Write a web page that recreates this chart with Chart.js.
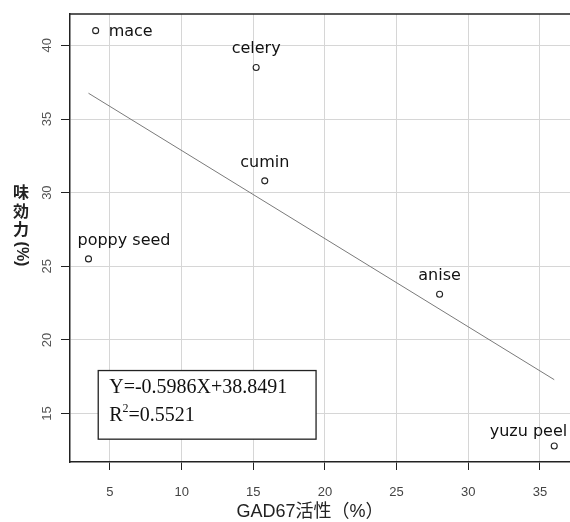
<!DOCTYPE html>
<html>
<head>
<meta charset="utf-8">
<script src="https://cdn.jsdelivr.net/npm/chart.js@4"></script>
<style>
  html, body { margin: 0; padding: 0; background: #fff; }
  #chart { display: block; }
</style>
</head>
<body>
<canvas id="chart" width="570" height="522"></canvas>
<script>
const spices = ['mace', 'celery', 'cumin', 'poppy seed', 'anise', 'yuzu peel'];
const gad67 = [4.0, 15.2, 15.8, 3.5, 28.0, 36.0];
const taste = [41.0, 38.5, 30.8, 25.5, 23.1, 12.8];

// fitted line ends
const trendX = [3.5, 36.0];
const trendY = [36.75, 17.30];

const xTicks = [5, 10, 15, 20, 25, 30, 35];
const yTicks = [15, 20, 25, 30, 35, 40];

const eqLine = 'Y=-0.5986X+38.8491';
const r2Value = '=0.5521';
const xTitle = 'GAD67活性（%）';
const yTitleChars = ['味', '効', '力'];
const yTitleTail = '(%)';

// where each name sits next to its point
const placement = ['right', 'above', 'above', 'aboveRight', 'above', 'aboveLeft'];

const ink = '#222';
const gridColor = '#d6d6d6';

const extras = {
    id: 'extras',
    afterDraw(chart) {
        const { ctx, chartArea: area, scales: { x, y } } = chart;
        ctx.save();

        // top frame line
        ctx.strokeStyle = ink;
        ctx.lineWidth = 1.5;
        ctx.beginPath();
        ctx.moveTo(area.left, area.top);
        ctx.lineTo(area.right, area.top);
        ctx.stroke();

        // y tick labels, rotated like R
        ctx.fillStyle = '#555';
        ctx.font = '13px "Liberation Sans"';
        ctx.textAlign = 'center';
        ctx.textBaseline = 'middle';
        yTicks.forEach((v) => {
            ctx.save();
            ctx.translate(area.left - 23, y.getPixelForValue(v));
            ctx.rotate(-Math.PI / 2);
            ctx.fillText(String(v), 0, 0);
            ctx.restore();
        });

        // point names
        const pts = chart.getDatasetMeta(1).data;
        ctx.fillStyle = '#111';
        ctx.font = '16px "DejaVu Sans"';
        ctx.textBaseline = 'alphabetic';
        pts.forEach((p, i) => {
            const where = placement[i];
            if (where === 'right') {
                ctx.textAlign = 'left';
                ctx.fillText(spices[i], p.x + 13, p.y + 5);
            } else if (where === 'aboveRight') {
                ctx.textAlign = 'left';
                ctx.fillText(spices[i], p.x - 11, p.y - 14);
            } else if (where === 'aboveLeft') {
                ctx.textAlign = 'right';
                ctx.fillText(spices[i], p.x + 13, p.y - 10);
            } else {
                ctx.textAlign = 'center';
                ctx.fillText(spices[i], p.x, p.y - 14);
            }
        });

        // equation box
        const bx1 = x.getPixelForValue(4.18);
        const bx2 = x.getPixelForValue(19.38);
        const by1 = y.getPixelForValue(17.92);
        const by2 = y.getPixelForValue(13.26);
        ctx.fillStyle = '#fff';
        ctx.fillRect(bx1, by1, bx2 - bx1, by2 - by1);
        ctx.strokeStyle = ink;
        ctx.lineWidth = 1.3;
        ctx.strokeRect(bx1, by1, bx2 - bx1, by2 - by1);

        ctx.fillStyle = '#111';
        ctx.textAlign = 'left';
        ctx.font = '20px "Liberation Serif"';
        ctx.fillText(eqLine, bx1 + 11, by1 + 22);
        ctx.fillText('R', bx1 + 11, by1 + 50);
        const rW = ctx.measureText('R').width;
        ctx.font = '12px "Liberation Serif"';
        ctx.fillText('2', bx1 + 11 + rW, by1 + 41);
        const sW = ctx.measureText('2').width;
        ctx.font = '20px "Liberation Serif"';
        ctx.fillText(r2Value, bx1 + 11 + rW + sW, by1 + 50);

        // x axis title
        ctx.fillStyle = ink;
        ctx.font = '18px "Liberation Sans", "Noto Sans CJK JP"';
        ctx.textAlign = 'center';
        ctx.textBaseline = 'middle';
        ctx.fillText(xTitle, area.left + 240, 512);

        // y axis title, written top to bottom
        ctx.font = 'bold 16px "Noto Sans CJK JP"';
        yTitleChars.forEach((ch, i) => {
            ctx.fillText(ch, 21, 192 + i * 18.5);
        });
        ctx.save();
        ctx.translate(21, 254);
        ctx.rotate(Math.PI / 2);
        ctx.font = 'bold 16px "Liberation Sans"';
        ctx.fillText(yTitleTail, 0, 0);
        ctx.restore();

        ctx.restore();
    }
};

const setTicks = (list) => (scale) => {
    scale.ticks = list.map((v) => ({ value: v }));
};

new Chart(document.getElementById('chart'), {
    type: 'scatter',
    data: {
        datasets: [{
            data: trendX.map((v, i) => ({ x: v, y: trendY[i] })),
            showLine: true,
            borderColor: '#7a7a7a',
            borderWidth: 1,
            pointRadius: 0,
            pointHoverRadius: 0
        }, {
            data: gad67.map((v, i) => ({ x: v, y: taste[i] })),
            pointStyle: 'circle',
            pointRadius: 3,
            pointBorderWidth: 1.1,
            borderColor: ink,
            backgroundColor: '#fff'
        }]
    },
    options: {
        responsive: false,
        devicePixelRatio: 1,
        animation: false,
        layout: {
            autoPadding: false,
            padding: { top: 14, left: 0, right: 0, bottom: 0 }
        },
        plugins: {
            legend: { display: false },
            tooltip: { enabled: false }
        },
        scales: {
            x: {
                type: 'linear',
                min: 2.21,
                max: 37.1,
                afterBuildTicks: setTicks(xTicks),
                afterFit: (scale) => {
                    scale.height = 60;
                    scale.paddingLeft = 0;
                    scale.paddingRight = 0;
                },
                grid: { color: gridColor, tickColor: ink, tickLength: 8, lineWidth: 1 },
                border: { color: ink, width: 1.5 },
                ticks: {
                    color: '#444',
                    font: { family: 'Liberation Sans', size: 13 },
                    padding: 15,
                    maxRotation: 0
                }
            },
            y: {
                type: 'linear',
                min: 11.71,
                max: 42.13,
                afterBuildTicks: setTicks(yTicks),
                afterFit: (scale) => {
                    scale.width = 70;
                    scale.paddingTop = 0;
                    scale.paddingBottom = 0;
                },
                grid: { color: gridColor, tickColor: ink, tickLength: 9, lineWidth: 1 },
                border: { color: ink, width: 1.5 },
                ticks: { display: false }
            }
        }
    },
    plugins: [extras]
});
</script>
</body>
</html>
